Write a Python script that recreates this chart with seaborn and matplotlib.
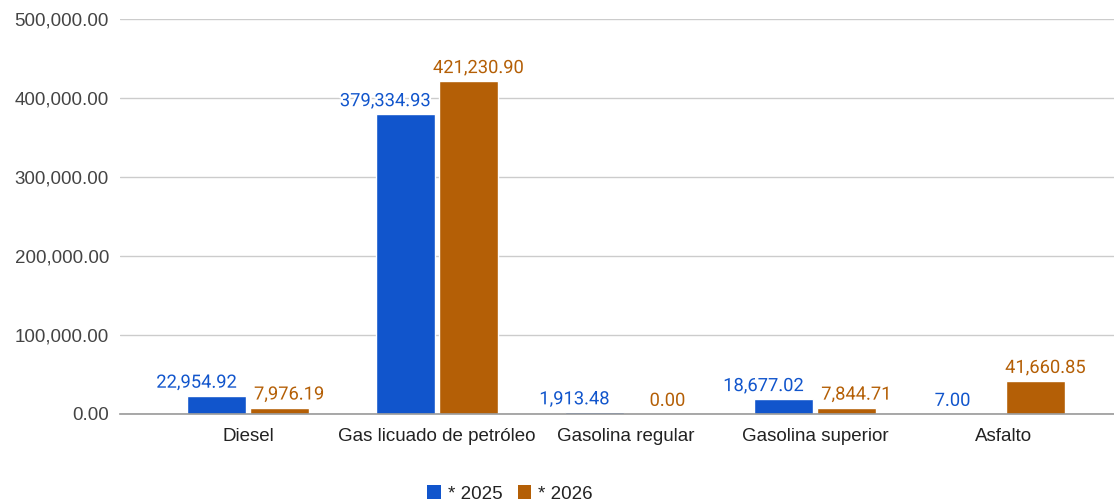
import matplotlib
matplotlib.use("Agg")
import matplotlib.pyplot as plt
import matplotlib.patheffects as pe
from matplotlib.ticker import FuncFormatter, MultipleLocator
from matplotlib.patches import Patch
import seaborn as sns
import pandas as pd

categories = ["Diesel", "Gas licuado de petróleo", "Gasolina regular", "Gasolina superior", "Asfalto"]
series_names = ["* 2025", "* 2026"]
values_2025 = [22954.92, 379334.93, 1913.48, 18677.02, 7.00]
values_2026 = [7976.19, 421230.90, 0.00, 7844.71, 41660.85]
colors = ["#1155CC", "#B45F06"]

df = pd.DataFrame({
    "cat": categories * 2,
    "serie": [series_names[0]] * 5 + [series_names[1]] * 5,
    "val": values_2025 + values_2026,
})

sns.set_theme(style="white")
plt.rcParams["font.family"] = ["Liberation Sans", "DejaVu Sans"]

fig = plt.figure(figsize=(11.14, 5.03), dpi=100)
ax = fig.add_axes([120 / 1114, 89 / 503, 994 / 1114, 395 / 503])

sns.barplot(data=df, x="cat", y="val", hue="serie", palette=colors,
            width=0.665, gap=0.05, ax=ax, legend=False, saturation=1,
            errorbar=None)

ax.set_xlim(-0.677, 4.582)
ax.set_ylim(0, 500000)
ax.yaxis.set_major_locator(MultipleLocator(100000))
ax.yaxis.set_major_formatter(FuncFormatter(lambda v, p: f"{v:,.2f}"))
ax.grid(axis="y", color="#cccccc", linewidth=1)
ax.set_axisbelow(True)
for s in ["top", "right", "left"]:
    ax.spines[s].set_visible(False)
ax.spines["bottom"].set_color("#999999")
ax.spines["bottom"].set_linewidth(1.2)
ax.set_xlabel("")
ax.set_ylabel("")
ax.tick_params(axis="y", length=0, pad=8, labelsize=13.5, labelcolor="#444444")
ax.tick_params(axis="x", length=0, pad=10, labelsize=13.5, labelcolor="#222222")

offsets = [-20, 10]
for i, cont in enumerate(ax.containers):
    texts = ax.bar_label(cont, labels=[f"{v:,.2f}" for v in cont.datavalues],
                         padding=3, fontsize=13.2, color=colors[i],
                         family=["Roboto", "DejaVu Sans"])
    for t in texts:
        t.set_path_effects([pe.withStroke(linewidth=3, foreground="white")])
        x, y = t.xyann
        t.xyann = (x + offsets[i] * 0.72, y)

handles = [Patch(facecolor=c, edgecolor="none") for c in colors]
fig.legend(handles, series_names, loc="center", bbox_to_anchor=(0.458, 9 / 503),
           ncol=2, frameon=False, fontsize=13.5, handlelength=0.7, handleheight=0.7,
           handletextpad=0.4, columnspacing=0.8, labelcolor="#222222")

fig.savefig("out.png", dpi=100)
